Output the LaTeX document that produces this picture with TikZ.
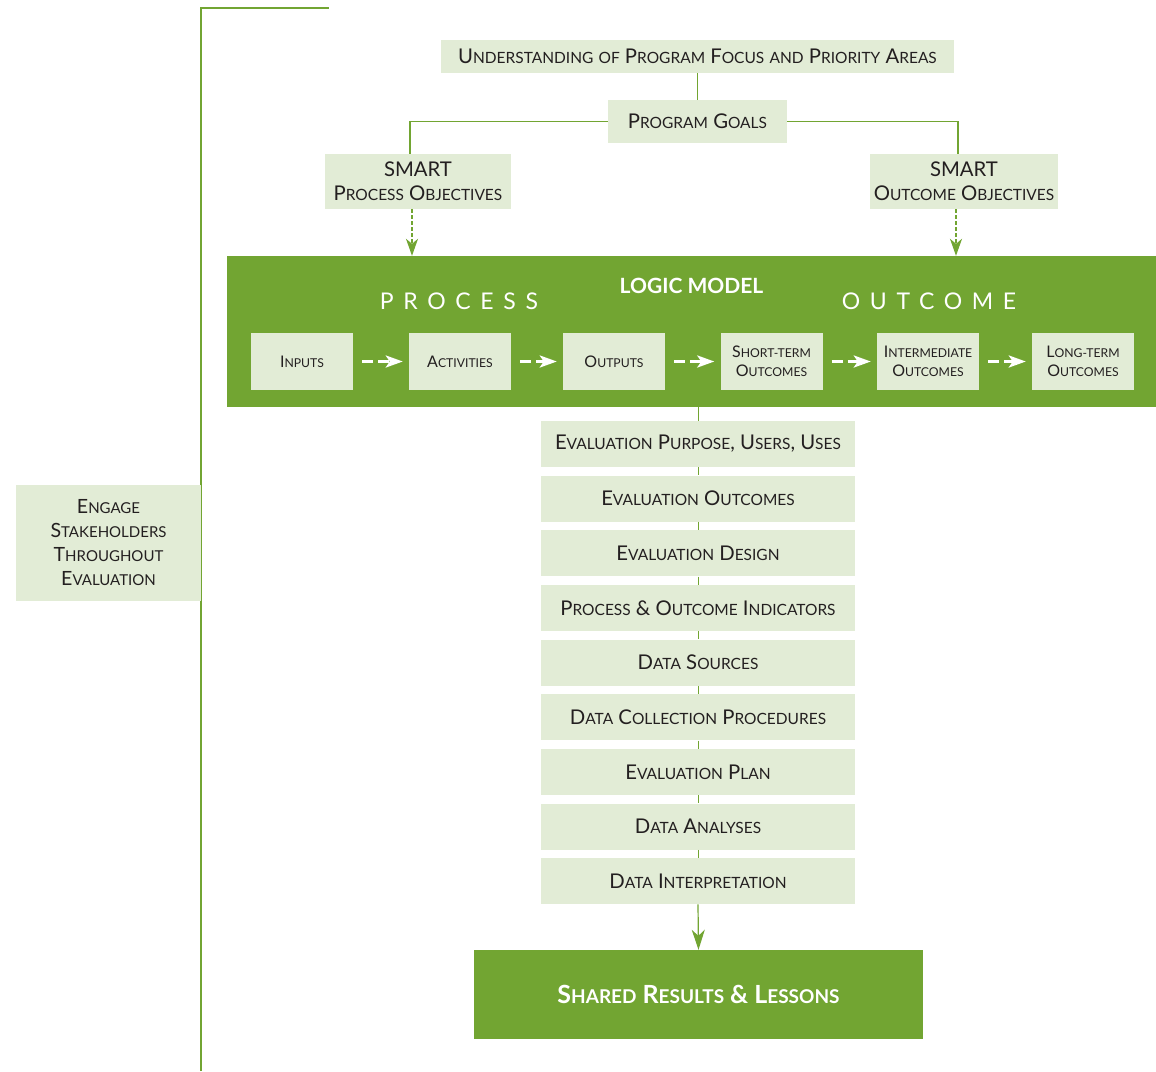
\documentclass[tikz,border=0pt]{standalone}
\usepackage{fontspec}
\setmainfont{Lato}
\usetikzlibrary{arrows.meta}
\definecolor{dg}{HTML}{72A532}
\definecolor{lg}{HTML}{E2ECD6}
\definecolor{tx}{HTML}{231F20}
\newcommand\lo[1]{{\fontsize{\losz}{\losz}\selectfont #1}}
\def\losz{14}
\tikzset{
  lbox/.style={fill=lg, inner sep=0pt, text=tx, align=center},
  fA/.style={font=\fontsize{20.3}{24}\selectfont\def\losz{15.5}},
  fB/.style={font=\fontsize{16}{19.5}\selectfont\def\losz{12.2}},
  fC/.style={font=\fontsize{19.6}{24}\selectfont\def\losz{15}},
  ebox/.style={lbox, fA, minimum width=314pt, minimum height=46pt},
  ibox/.style={lbox, fB, minimum width=102pt, minimum height=57pt},
  gline/.style={draw=dg, line width=1.4pt},
  garrow/.style={draw=dg, line width=1.2pt, dash pattern=on 3.5pt off 2.5pt, -{Stealth[length=17pt, width=12pt, inset=5pt]}},
  warrow/.style={draw=white, line width=3pt, dash pattern=on 11pt off 5pt, -{Stealth[length=17pt, width=12pt, inset=4pt]}},
}
\begin{document}
\begin{tikzpicture}[x=1pt, y=-1pt]
\useasboundingbox (0,0) rectangle (1156,1071);
% bracket
\coordinate (b1) at (201,1071);
\coordinate (b2) at (201,8);
\coordinate (b3) at (329,8);
\draw[gline] (b1) -- (b2) -- (b3);
% engage
\node[lbox, fC, minimum width=185pt, minimum height=116pt] (eng) at (108.5,543)
  {E\lo{NGAGE}\\S\lo{TAKEHOLDERS}\\T\lo{HROUGHOUT}\\E\lo{VALUATION}};
% top
\node[lbox, fA, minimum width=513pt, minimum height=33pt] (top) at (697.5,56.5)
  {U\lo{NDERSTANDING} \lo{OF} P\lo{ROGRAM} F\lo{OCUS} \lo{AND} P\lo{RIORITY} A\lo{REAS}};
\node[lbox, fA, minimum width=179pt, minimum height=43pt] (goals) at (697.5,121.5)
  {P\lo{ROGRAM} G\lo{OALS}};
\node[lbox, fA, minimum width=186pt, minimum height=55pt] (sp) at (418,181.5)
  {SMART\\P\lo{ROCESS} O\lo{BJECTIVES}};
\node[lbox, fA, minimum width=188pt, minimum height=55pt] (so) at (964,181.5)
  {SMART\\O\lo{UTCOME} O\lo{BJECTIVES}};
\draw[gline] (top.south) -- (goals.north);
\draw[gline] (goals.west) -| ([xshift=-8pt]sp.north);
\draw[gline] (goals.east) -| ([xshift=-6pt]so.north);
% logic model
\node[fill=dg, inner sep=0pt, minimum width=929pt, minimum height=151pt] (lm) at (691.5,331.5) {};
\node[text=white, font=\fontsize{21}{21}\selectfont\bfseries] (lmt) at (691.5,286) {LOGIC MODEL};
\node[text=white, font=\fontsize{23}{23}\selectfont\addfontfeature{LetterSpace=42}] (proc) at (459,301) {PROCESS};
\node[text=white, font=\fontsize{23}{23}\selectfont\addfontfeature{LetterSpace=42}] (outc) at (929,301) {OUTCOME};
\draw[garrow] ([xshift=-6pt]sp.south) -- ([xshift=-6pt]sp.south |- lm.north);
\draw[garrow] ([xshift=-8pt]so.south) -- ([xshift=-8pt]so.south |- lm.north);
\node[ibox] (i1) at (302,361.5) {I\lo{NPUTS}};
\node[ibox] (i2) at (460,361.5) {A\lo{CTIVITIES}};
\node[ibox] (i3) at (614,361.5) {O\lo{UTPUTS}};
\node[ibox] (i4) at (771.5,361.5) {S\lo{HORT-TERM}\\O\lo{UTCOMES}};
\node[ibox] (i5) at (928,361.5) {I\lo{NTERMEDIATE}\\O\lo{UTCOMES}};
\node[ibox] (i6) at (1083,361.5) {L\lo{ONG-TERM}\\O\lo{UTCOMES}};
\foreach \a/\b in {i1/i2, i2/i3, i3/i4, i4/i5, i5/i6}
  \draw[warrow] ([xshift=9pt]\a.east) -- ([xshift=-6pt]\b.west);
% evaluation steps
\node[ebox] (e1) at (698,444) {E\lo{VALUATION} P\lo{URPOSE}, U\lo{SERS}, U\lo{SES}};
\node[ebox] (e2) at (698,498.6) {E\lo{VALUATION} O\lo{UTCOMES}};
\node[ebox] (e3) at (698,553.3) {E\lo{VALUATION} D\lo{ESIGN}};
\node[ebox] (e4) at (698,608) {P\lo{ROCESS} \& O\lo{UTCOME} I\lo{NDICATORS}};
\node[ebox] (e5) at (698,662.6) {D\lo{ATA} S\lo{OURCES}};
\node[ebox] (e6) at (698,717.3) {D\lo{ATA} C\lo{OLLECTION} P\lo{ROCEDURES}};
\node[ebox] (e7) at (698,771.9) {E\lo{VALUATION} P\lo{LAN}};
\node[ebox] (e8) at (698,826.6) {D\lo{ATA} A\lo{NALYSES}};
\node[ebox] (e9) at (698,881.2) {D\lo{ATA} I\lo{NTERPRETATION}};
\node[fill=dg, inner sep=0pt, minimum width=449pt, minimum height=89pt, text=white,
  font=\fontsize{25}{25}\selectfont\bfseries\def\losz{19}] (sh) at (698.5,994.5)
  {S\lo{HARED} R\lo{ESULTS} \& L\lo{ESSONS}};
\draw[draw=dg, line width=1pt] (e1.north) -- (e1.north |- lm.south);
\foreach \a/\b in {e1/e2, e2/e3, e3/e4, e4/e5, e5/e6, e6/e7, e7/e8, e8/e9}
  \draw[draw=dg, line width=1pt] (\a.south) -- (\b.north);
\draw[draw=dg, line width=1.2pt, -{Stealth[length=20pt, width=13pt, inset=6pt]}] (e9.south) -- (sh.north);
\end{tikzpicture}
\end{document}
